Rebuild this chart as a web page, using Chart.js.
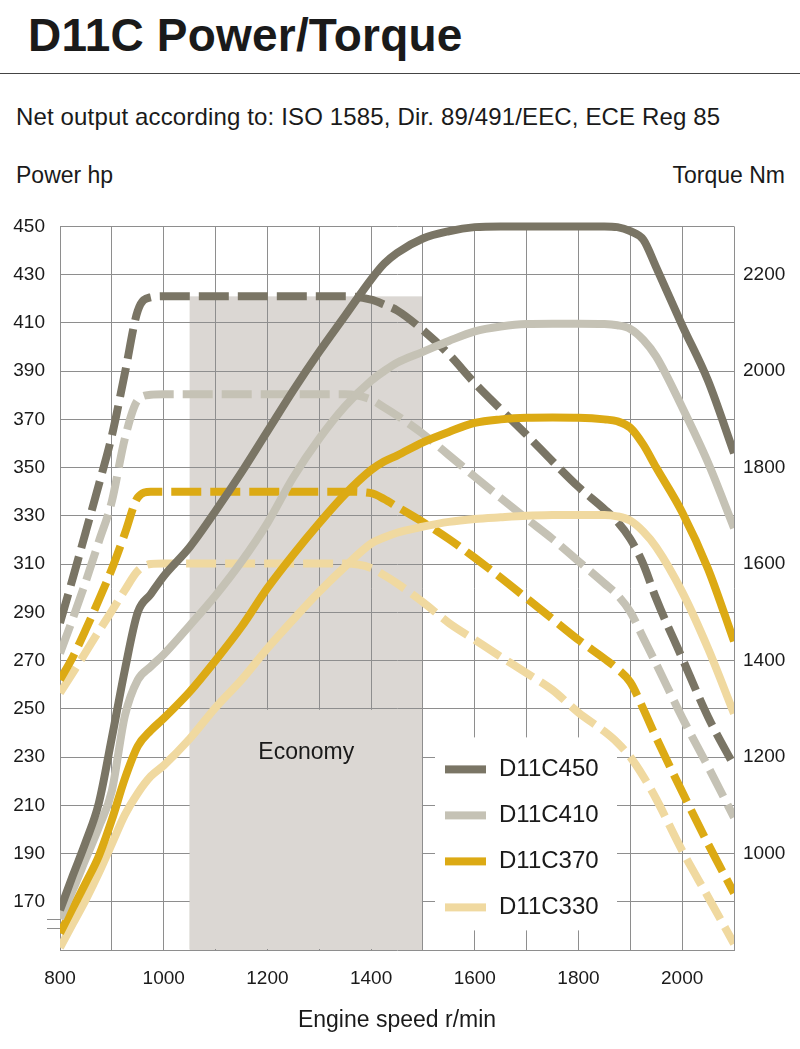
<!DOCTYPE html>
<html>
<head>
<meta charset="utf-8">
<title>D11C Power/Torque</title>
<script src="https://cdn.jsdelivr.net/npm/chart.js@4.4.1/dist/chart.umd.min.js"></script>
<style>
  body { margin: 0; background: #fff; font-family: "Liberation Sans", Arial, sans-serif; color: #1a1a1a; }
  #page { position: relative; width: 800px; height: 1049px; overflow: hidden; }
  .txt { position: absolute; white-space: nowrap; line-height: 1; }
  #title { left: 28px; top: 12px; font-size: 46px; font-weight: bold; letter-spacing: 0.2px; }
  #rule { position: absolute; left: 0; top: 73px; width: 800px; border-top: 1.5px solid #444; }
  #sub { left: 16px; top: 105px; font-size: 24px; letter-spacing: 0.15px; }
  #powerTitle { left: 16px; top: 164px; font-size: 23px; }
  #torqueTitle { right: 15px; top: 164px; font-size: 23px; }
  #xTitle { left: 397px; top: 1008px; font-size: 23px; transform: translateX(-50%); }
  #chartBox { position: absolute; left: 0; top: 200px; width: 800px; height: 849px; }
</style>
</head>
<body>
<div id="page">
  <div class="txt" id="title">D11C Power/Torque</div>
  <div id="rule"></div>
  <div class="txt" id="sub">Net output according to: ISO 1585, Dir. 89/491/EEC, ECE Reg 85</div>
  <div class="txt" id="powerTitle">Power hp</div>
  <div class="txt" id="torqueTitle">Torque Nm</div>
  <div id="chartBox"><canvas id="engineChart"></canvas></div>
  <div class="txt" id="xTitle">Engine speed r/min</div>
</div>
<script>
// engine speed r/min
const rpm = [800, 825, 850, 875, 900, 925, 950, 975, 1000, 1050, 1100, 1150, 1200, 1250, 1300, 1350,
             1400, 1425, 1450, 1500, 1550, 1600, 1650, 1700, 1750, 1800, 1850, 1875, 1900, 1925, 1950, 2000, 2050, 2100];

// power, hp (solid lines, left axis)
const hp450 = [166.5, 181, 195, 211, 238, 266, 290, 297.5, 305, 317, 332, 348, 365, 382, 398, 413,
               428, 434.5, 439, 445, 448, 449.7, 450, 450, 450, 450, 450, 449.7, 448, 444.5, 433, 409, 386, 356];
const hp410 = [163, 175, 188, 201, 216, 247, 262, 267.5, 272.5, 284.5, 297, 311, 327, 346, 362, 375.5,
               386, 390, 393.5, 398, 402.5, 406.5, 408.5, 409.5, 409.6, 409.6, 409.5, 409, 407.5, 403, 396, 375, 352, 325];
const hp370 = [157, 167.5, 178, 189, 204, 221, 234.5, 241, 246, 257, 270, 284, 300, 314, 327, 339,
               349, 352.5, 355, 360.5, 364.8, 368.5, 370, 370.7, 370.8, 370.7, 370, 369.2, 366.5, 359.5, 350, 331.5, 308, 278];
const hp330 = [151, 161, 171, 182, 194, 206, 215, 222, 226.5, 237.5, 250.5, 262, 275, 287, 298.5, 309,
               318.5, 321, 323, 325.5, 327.5, 328.7, 329.4, 330, 330.3, 330.4, 330.4, 329.8, 328, 323.5, 317, 298.5, 275, 248];

// torque, Nm (dashed lines, right axis)
const nm450 = [1478, 1572, 1668, 1765, 1866, 1995, 2125, 2153, 2155, 2155, 2155, 2155, 2155, 2155, 2155, 2155,
               2148, 2138, 2126, 2085, 2035, 1975, 1921, 1868, 1813, 1760, 1714, 1688, 1652, 1600, 1528, 1405, 1283, 1182];
const nm410 = [1415, 1488, 1565, 1647, 1730, 1860, 1940, 1951, 1952, 1952, 1952, 1952, 1952, 1952, 1952, 1952,
               1941, 1925, 1908, 1870, 1826, 1781, 1737, 1694, 1652, 1606, 1560, 1536, 1501, 1447, 1393, 1282, 1180, 1075];
const nm370 = [1360, 1408, 1465, 1526, 1590, 1663, 1738, 1750, 1750, 1750, 1750, 1750, 1750, 1750, 1750, 1750,
               1747, 1735, 1719, 1687, 1652, 1613, 1572, 1529, 1486, 1443, 1404, 1383, 1355, 1300, 1240, 1128, 1020, 918];
const nm330 = [1333, 1375, 1418, 1461, 1503, 1546, 1586, 1600, 1601, 1601, 1601, 1601, 1601, 1601, 1601, 1601,
               1592, 1577, 1560, 1521, 1478, 1443, 1408, 1374, 1339, 1292, 1253, 1230, 1200, 1160, 1113, 1006, 910, 813];

const engines = ["D11C450", "D11C410", "D11C370", "D11C330"];
const hpTicks = [170, 190, 210, 230, 250, 270, 290, 310, 330, 350, 370, 390, 410, 430, 450];
const nmTicks = [1000, 1200, 1400, 1600, 1800, 2000, 2200];
const economyRpm = [1050, 1500];
const economyNm = 2155;

const colors = ["#7a7565", "#c5c2b5", "#dcaa14", "#f0d9a0"];
const shade = "#dbd7d3";
const gridColor = "#8e8e8e";
const textColor = "#1a1a1a";

Chart.defaults.font.family = "'Liberation Sans', Arial, sans-serif";
Chart.defaults.font.size = 19;
Chart.defaults.color = textColor;

function points(values) {
    return rpm.map((r, i) => ({ x: r, y: values[i] }));
}

const datasets = [];
[hp450, hp410, hp370, hp330].forEach((values, i) => {
    datasets.push({
        label: engines[i],
        data: points(values),
        yAxisID: "yPower",
        borderColor: colors[i],
        borderWidth: 8,
        borderCapStyle: "butt",
        borderJoinStyle: "round",
        pointRadius: 0,
        cubicInterpolationMode: "monotone",
        fill: false,
        clip: { left: 0, right: 0, top: 5, bottom: 0 }
    });
});
[nm450, nm410, nm370, nm330].forEach((values, i) => {
    datasets.push({
        label: engines[i] + " Nm",
        data: points(values),
        yAxisID: "yTorque",
        borderColor: colors[i],
        borderWidth: 8,
        borderDash: [30, 9],
        borderCapStyle: "butt",
        pointRadius: 0,
        cubicInterpolationMode: "monotone",
        fill: false,
        clip: { left: 0, right: 0, top: 5, bottom: 0 }
    });
});

// economy band, label, legend box
const backdrop = {
    id: "backdrop",
    beforeDraw(chart) {
        const { ctx, chartArea, scales } = chart;
        const x0 = scales.x.getPixelForValue(economyRpm[0]);
        const x1 = scales.x.getPixelForValue(economyRpm[1]);
        const yTop = scales.yTorque.getPixelForValue(economyNm);
        ctx.save();
        ctx.fillStyle = shade;
        ctx.fillRect(x0, yTop, x1 - x0, chartArea.bottom - yTop);
        ctx.restore();
    },
    beforeDatasetsDraw(chart) {
        const { ctx, chartArea, scales } = chart;
        const x0 = scales.x.getPixelForValue(economyRpm[0]);
        const x1 = scales.x.getPixelForValue(economyRpm[1]);
        const yCut = scales.yPower.getPixelForValue(250) + 1;
        ctx.save();
        // no grid behind the "Economy" label
        ctx.fillStyle = shade;
        ctx.fillRect(x0, yCut, x1 - x0 - 1, chartArea.bottom - 1 - yCut);
        ctx.fillStyle = textColor;
        ctx.font = "23px 'Liberation Sans', Arial, sans-serif";
        ctx.textAlign = "center";
        ctx.textBaseline = "middle";
        ctx.fillText("Economy", (x0 + x1) / 2, scales.yPower.getPixelForValue(232));

        // legend
        const left = chartArea.left + 375;
        const top = chartArea.top + 511;
        ctx.fillStyle = "#fff";
        ctx.fillRect(left, top, 182, 193);
        ctx.font = "24px 'Liberation Sans', Arial, sans-serif";
        ctx.textAlign = "left";
        engines.forEach((name, i) => {
            const y = top + 32 + i * 46;
            ctx.fillStyle = colors[i];
            ctx.fillRect(left + 10, y - 4, 41, 8);
            ctx.fillStyle = textColor;
            ctx.fillText(name, left + 64, y);
        });

        // small marks left of the axis
        ctx.strokeStyle = gridColor;
        ctx.lineWidth = 1;
        [163, 159].forEach(v => {
            const y = Math.round(scales.yPower.getPixelForValue(v)) + 0.5;
            ctx.beginPath();
            ctx.moveTo(chartArea.left - 13, y);
            ctx.lineTo(chartArea.left, y);
            ctx.stroke();
        });
        ctx.restore();
    }
};

const ctx = document.getElementById("engineChart").getContext("2d");
const engineChart = new Chart(ctx, {
    type: "line",
    data: { datasets: datasets },
    options: {
        responsive: true,
        maintainAspectRatio: false,
        animation: false,
        events: [],
        layout: { padding: { top: 24, left: 0, right: 0, bottom: 0 } },
        plugins: { legend: { display: false }, tooltip: { enabled: false } },
        scales: {
            x: {
                type: "linear",
                min: 800,
                max: 2100,
                grid: { color: gridColor, lineWidth: 1, drawTicks: false },
                border: { color: gridColor },
                ticks: {
                    stepSize: 100,
                    padding: 17,
                    autoSkip: false,
                    maxRotation: 0,
                    callback: v => (v % 200 === 0 && v <= 2000) ? String(v) : ""
                },
                afterFit: s => { s.height = 99; }
            },
            yPower: {
                type: "linear",
                position: "left",
                min: 150,
                max: 450,
                grid: { color: gridColor, lineWidth: 1, drawTicks: false },
                border: { color: gridColor },
                ticks: { padding: 15, callback: v => String(v) },
                afterBuildTicks: s => { s.ticks = hpTicks.map(v => ({ value: v })); },
                afterFit: s => { s.width = 60; }
            },
            yTorque: {
                type: "linear",
                position: "right",
                min: 800,
                max: 2300,
                grid: { display: false, drawTicks: false },
                border: { display: false },
                ticks: { padding: 9, callback: v => String(v) },
                afterBuildTicks: s => { s.ticks = nmTicks.map(v => ({ value: v })); },
                afterFit: s => { s.width = 66; }
            }
        }
    },
    plugins: [backdrop]
});
</script>
</body>
</html>
